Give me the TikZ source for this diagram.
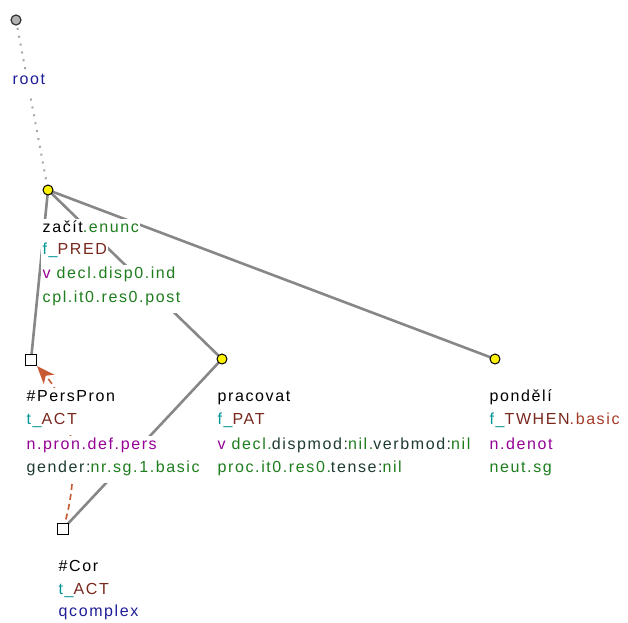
\documentclass[tikz,border=0pt]{standalone}
\usepackage{fontspec}
\setmainfont[LetterSpace=10]{Liberation Sans}
\usetikzlibrary{arrows.meta}
\definecolor{cgreen}{RGB}{30,125,30}
\definecolor{cteal}{RGB}{0,150,150}
\definecolor{cbrown}{RGB}{120,40,30}
\definecolor{cbasic}{RGB}{165,60,40}
\definecolor{cpurple}{RGB}{150,0,150}
\definecolor{cdark}{RGB}{30,60,50}
\definecolor{cblue}{RGB}{30,30,150}
\definecolor{ccoref}{RGB}{200,90,50}
\definecolor{cedge}{RGB}{135,135,135}
\definecolor{croot}{RGB}{165,165,165}
\tikzset{
  lbl/.style={anchor=west, fill=white, inner sep=1.5pt, text height=12.5pt, text depth=9pt,
    font=\fontsize{16}{19}\selectfont},
  edgeline/.style={draw=cedge, line width=2.6pt},
  rootline/.style={draw=croot, line width=2pt, dash pattern=on 2pt off 6pt},
  yellownode/.style={circle, draw=black, fill=yellow, line width=1pt, minimum size=10pt, inner sep=0pt},
  rootnode/.style={circle, draw=black!80, fill=black!30, line width=1.2pt, minimum size=10pt, inner sep=0pt},
  sqnode/.style={rectangle, draw=black, fill=white, line width=1pt, minimum size=11pt, inner sep=0pt},
  corefline/.style={draw=ccoref, line width=1.6pt, dash pattern=on 6pt off 4pt,
    -{Stealth[length=18pt,width=14pt,inset=5pt]}}
}
\begin{document}
\begin{tikzpicture}[x=1pt,y=-1pt]
\useasboundingbox (0,0) rectangle (628,622);
% node positions
\coordinate (pr) at (16,20);
\coordinate (pz) at (48,190);
\coordinate (pp) at (31,360);
\coordinate (pw) at (222,359);
\coordinate (pd) at (495,359);
\coordinate (pc) at (63,529);
% edges
\draw[rootline] (pr) -- (pz);
\draw[edgeline] (pz) -- (pp);
\draw[edgeline] (pz) -- (pw);
\draw[edgeline] (pz) -- (pd);
\draw[edgeline] (pw) -- (pc);
\draw[corefline] (pc) .. controls (82,470) and (72,405) .. (37,366);
% labels
\node[lbl] (lroot) at (11,83) {\textcolor{cblue}{root}};
\node[lbl] (lz1) at (41,231) {za\v{c}\'{\i}t\textcolor{cgreen}{.enunc}};
\node[lbl] (lz2) at (41,253) {\textcolor{cteal}{f\_}\textcolor{cbrown}{PRED}};
\node[lbl] (lz3) at (41,277) {\textcolor{cpurple}{v} \textcolor{cgreen}{decl.disp0.ind}};
\node[lbl] (lz4) at (41,301) {\textcolor{cgreen}{cpl.it0.res0.post}};
\node[lbl] (lp1) at (25,400) {\#PersPron};
\node[lbl] (lp2) at (25,423) {\textcolor{cteal}{t\_}\textcolor{cbrown}{ACT}};
\node[lbl] (lp3) at (25,448) {\textcolor{cpurple}{n.pron.def.pers}};
\node[lbl] (lp4) at (25,471) {\textcolor{cdark}{gender:}\textcolor{cgreen}{nr.sg.1.basic}};
\node[lbl] (lw1) at (216,400) {pracovat};
\node[lbl] (lw2) at (216,423) {\textcolor{cteal}{f\_}\textcolor{cbrown}{PAT}};
\node[lbl] (lw3) at (216,448) {\textcolor{cpurple}{v} \textcolor{cgreen}{decl.}\textcolor{cdark}{dispmod:}\textcolor{cgreen}{nil.}\textcolor{cdark}{verbmod:}\textcolor{cgreen}{nil}};
\node[lbl] (lw4) at (216,471) {\textcolor{cgreen}{proc.it0.res0.}\textcolor{cdark}{tense:}\textcolor{cgreen}{nil}};
\node[lbl] (ld1) at (488,400) {pond\v{e}l\'{\i}};
\node[lbl] (ld2) at (488,423) {\textcolor{cteal}{f\_}\textcolor{cbrown}{TWHEN}\textcolor{cbasic}{.basic}};
\node[lbl] (ld3) at (488,448) {\textcolor{cpurple}{n.denot}};
\node[lbl] (ld4) at (488,471) {\textcolor{cgreen}{neut.sg}};
\node[lbl] (lc1) at (57,570) {\#Cor};
\node[lbl] (lc2) at (57,593) {\textcolor{cteal}{t\_}\textcolor{cbrown}{ACT}};
\node[lbl] (lc3) at (57,615) {\textcolor{cblue}{qcomplex}};
% nodes
\node[rootnode] (root) at (pr) {};
\node[yellownode] (zacit) at (pz) {};
\node[sqnode] (perspron) at (pp) {};
\node[yellownode] (pracovat) at (pw) {};
\node[yellownode] (pondeli) at (pd) {};
\node[sqnode] (cor) at (pc) {};
\end{tikzpicture}
\end{document}
